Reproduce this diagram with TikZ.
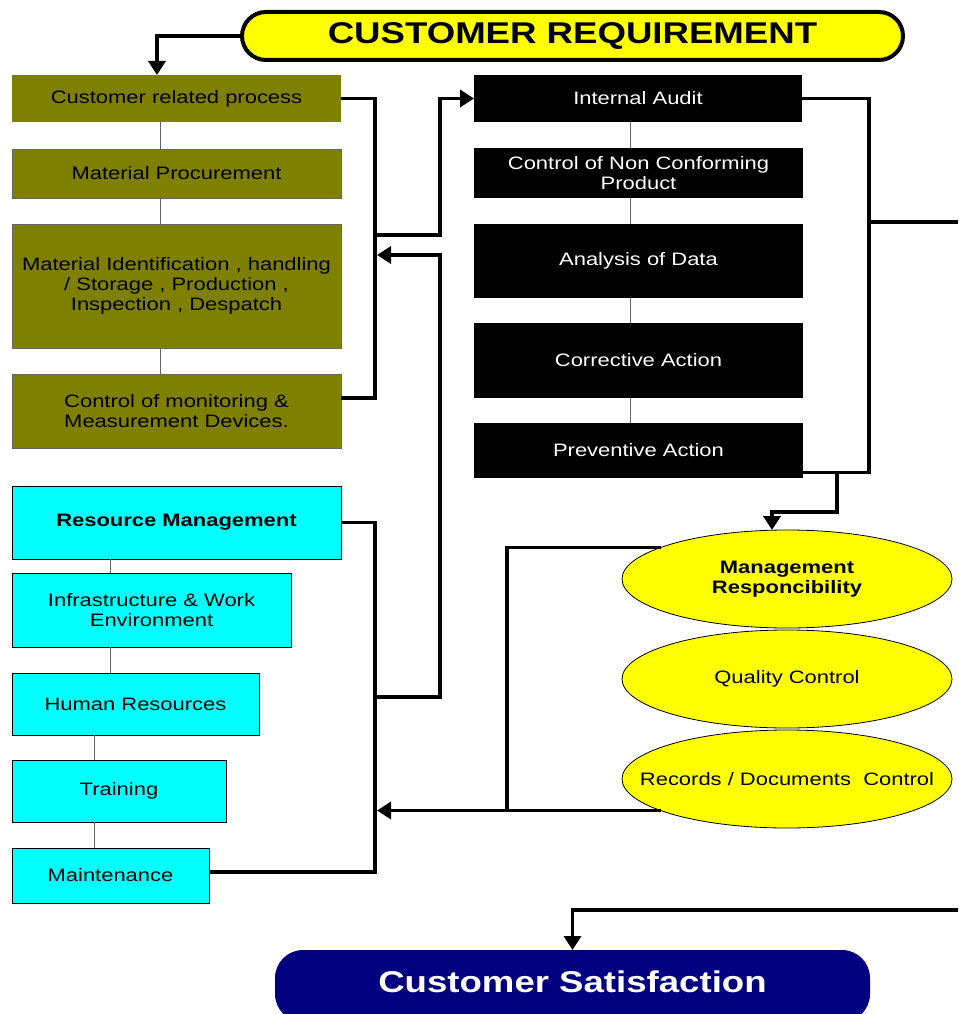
\documentclass[tikz,border=0pt]{standalone}
\usepackage{fontspec}
\setmainfont{Liberation Sans}[FakeStretch=1.22]
\usetikzlibrary{arrows.meta,shapes.geometric}
\definecolor{olivec}{HTML}{808000}
\definecolor{cyanc}{HTML}{00FFFF}
\definecolor{yellowc}{HTML}{FFFF00}
\definecolor{navyc}{HTML}{000080}
\newcommand\fsA{\fontsize{18}{20}\selectfont}
\newcommand\fsT{\fontsize{30}{32}\selectfont\bfseries}
\tikzset{
  box/.style={rectangle, inner sep=0pt, outer sep=0pt, align=center, font=\fsA},
  olivebox/.style={box, fill=olivec, draw=black!60, line width=0.6pt},
  blackbox/.style={box, fill=black, text=white},
  cyanbox/.style={box, fill=cyanc, draw=black, line width=0.8pt},
  ellbox/.style={ellipse, fill=yellowc, draw=black, line width=0.8pt, inner sep=0pt, outer sep=0pt, align=center, font=\fsA, minimum width=330pt, minimum height=98pt},
  conn/.style={line width=3.5pt, draw=black},
  arr/.style={-{Triangle[length=14pt,width=17pt]}},
  link/.style={draw=black!60, line width=1pt}
}
\begin{document}
\begin{tikzpicture}[x=1pt,y=-1pt]
\clip (0,0) rectangle (958,1014);
\fill[white] (0,0) rectangle (958,1014);

% title
\node[box, fill=yellowc, draw=black, line width=4pt, rounded corners=24pt, minimum width=661pt, minimum height=48pt, font=\fsT] (cr) at (572.5,36) {\raisebox{-2pt}{CUSTOMER REQUIREMENT}};

% olive column
\node[box, fill=olivec, minimum width=329pt, minimum height=47pt] (crp) at (176.5,98.5) {Customer related process};
\node[olivebox, minimum width=329pt, minimum height=49pt] (mp) at (176.5,173.5) {Material Procurement};
\node[olivebox, minimum width=329pt, minimum height=124pt] (mi) at (176.5,286) {Material Identification , handling\\/ Storage , Production ,\\Inspection , Despatch};
\node[olivebox, minimum width=329pt, minimum height=74pt] (cmd) at (176.5,411) {Control of monitoring \&\\Measurement Devices.};

% black column
\node[blackbox, minimum width=328pt, minimum height=47pt] (ia) at (638,98.5) {Internal Audit};
\node[blackbox, minimum width=329pt, minimum height=50pt] (ncp) at (638.5,173) {Control of Non Conforming\\Product};
\node[blackbox, minimum width=329pt, minimum height=74pt] (ad) at (638.5,261) {Analysis of Data};
\node[blackbox, minimum width=329pt, minimum height=75pt] (ca) at (638.5,360.5) {Corrective Action};
\node[blackbox, minimum width=329pt, minimum height=55pt] (pa) at (638.5,450.5) {Preventive Action};

% cyan column
\node[cyanbox, minimum width=329pt, minimum height=73pt, font=\fsA\bfseries] (rm) at (176.5,522.5) {Resource Management};
\node[cyanbox, minimum width=279pt, minimum height=74pt] (iwe) at (151.5,610) {Infrastructure \& Work\\Environment};
\node[cyanbox, minimum width=247pt, minimum height=62pt] (hr) at (135.5,704) {Human Resources};
\node[cyanbox, minimum width=214pt, minimum height=62pt] (tr) at (119,791) {Training};
\node[cyanbox, minimum width=197pt, minimum height=55pt] (mt) at (110.5,875.5) {Maintenance};

% ellipses
\node[ellbox, font=\fsA\bfseries] (mr) at (787,579) {Management\\Responcibility};
\node[ellbox] (qc) at (787,679) {Quality Control};
\node[ellbox] (rdc) at (787,779) {\makebox[0pt]{Records / Documents\ \ Control}};

% customer satisfaction
\node[box, fill=navyc, text=white, rounded corners=28pt, minimum width=595pt, minimum height=72pt, font=\fsT] (cs) at (572.5,986) {Customer Satisfaction\rule[-9pt]{0pt}{0pt}};

% thin links
\draw[link] (crp.south -| 160,0) -- (mp.north -| 160,0);
\draw[link] (mp.south -| 160,0) -- (mi.north -| 160,0);
\draw[link] (mi.south -| 160,0) -- (cmd.north -| 160,0);
\draw[link] (ia.south -| 630,0) -- (ncp.north -| 630,0);
\draw[link] (ncp.south -| 630,0) -- (ad.north -| 630,0);
\draw[link] (ad.south -| 630,0) -- (ca.north -| 630,0);
\draw[link] (ca.south -| 630,0) -- (pa.north -| 630,0);
\draw[link] (rm.south -| 110,0) -- (iwe.north -| 110,0);
\draw[link] (iwe.south -| 110,0) -- (hr.north -| 110,0);
\draw[link] (hr.south -| 94,0) -- (tr.north -| 94,0);
\draw[link] (tr.south -| 94,0) -- (mt.north -| 94,0);

% coordinates
\coordinate (busA) at (375,235);
\coordinate (busB) at (375,697);
\coordinate (busC) at (377,0);
\coordinate (edgeA) at (958,222);
\coordinate (edgeB) at (958,910);

% thick connectors
\draw[conn, arr] (cr.west) -| (crp.north -| 157,0);
\draw[conn] (crp.east) -- (375,98.5) |- ([yshift=13pt]cmd.east);
\draw[conn, arr] (busA) -- (440,235) |- (ia.west);
\draw[conn, arr] (busB) -- (440,697) -- (440,255) -- (377,255);
\draw[conn] (rm.east) -- (375,522.5) |- ([yshift=3.5pt]mt.east);
\draw[conn, arr] (rdc.194) -- (rdc.194 -| busC);
\draw[conn] (mr.166) -| (rdc.194 -| 507,0);
\draw[conn] (ia.east) -- (869,98.5) |- ([yshift=-22pt]pa.east);
\draw[conn] (869,222) -- (edgeA);
\draw[conn, arr] (837,472) -- (837,512) -| ([xshift=-15pt]mr.north);
\draw[conn, arr] (edgeB) -| (cs.north);
\end{tikzpicture}
\end{document}
